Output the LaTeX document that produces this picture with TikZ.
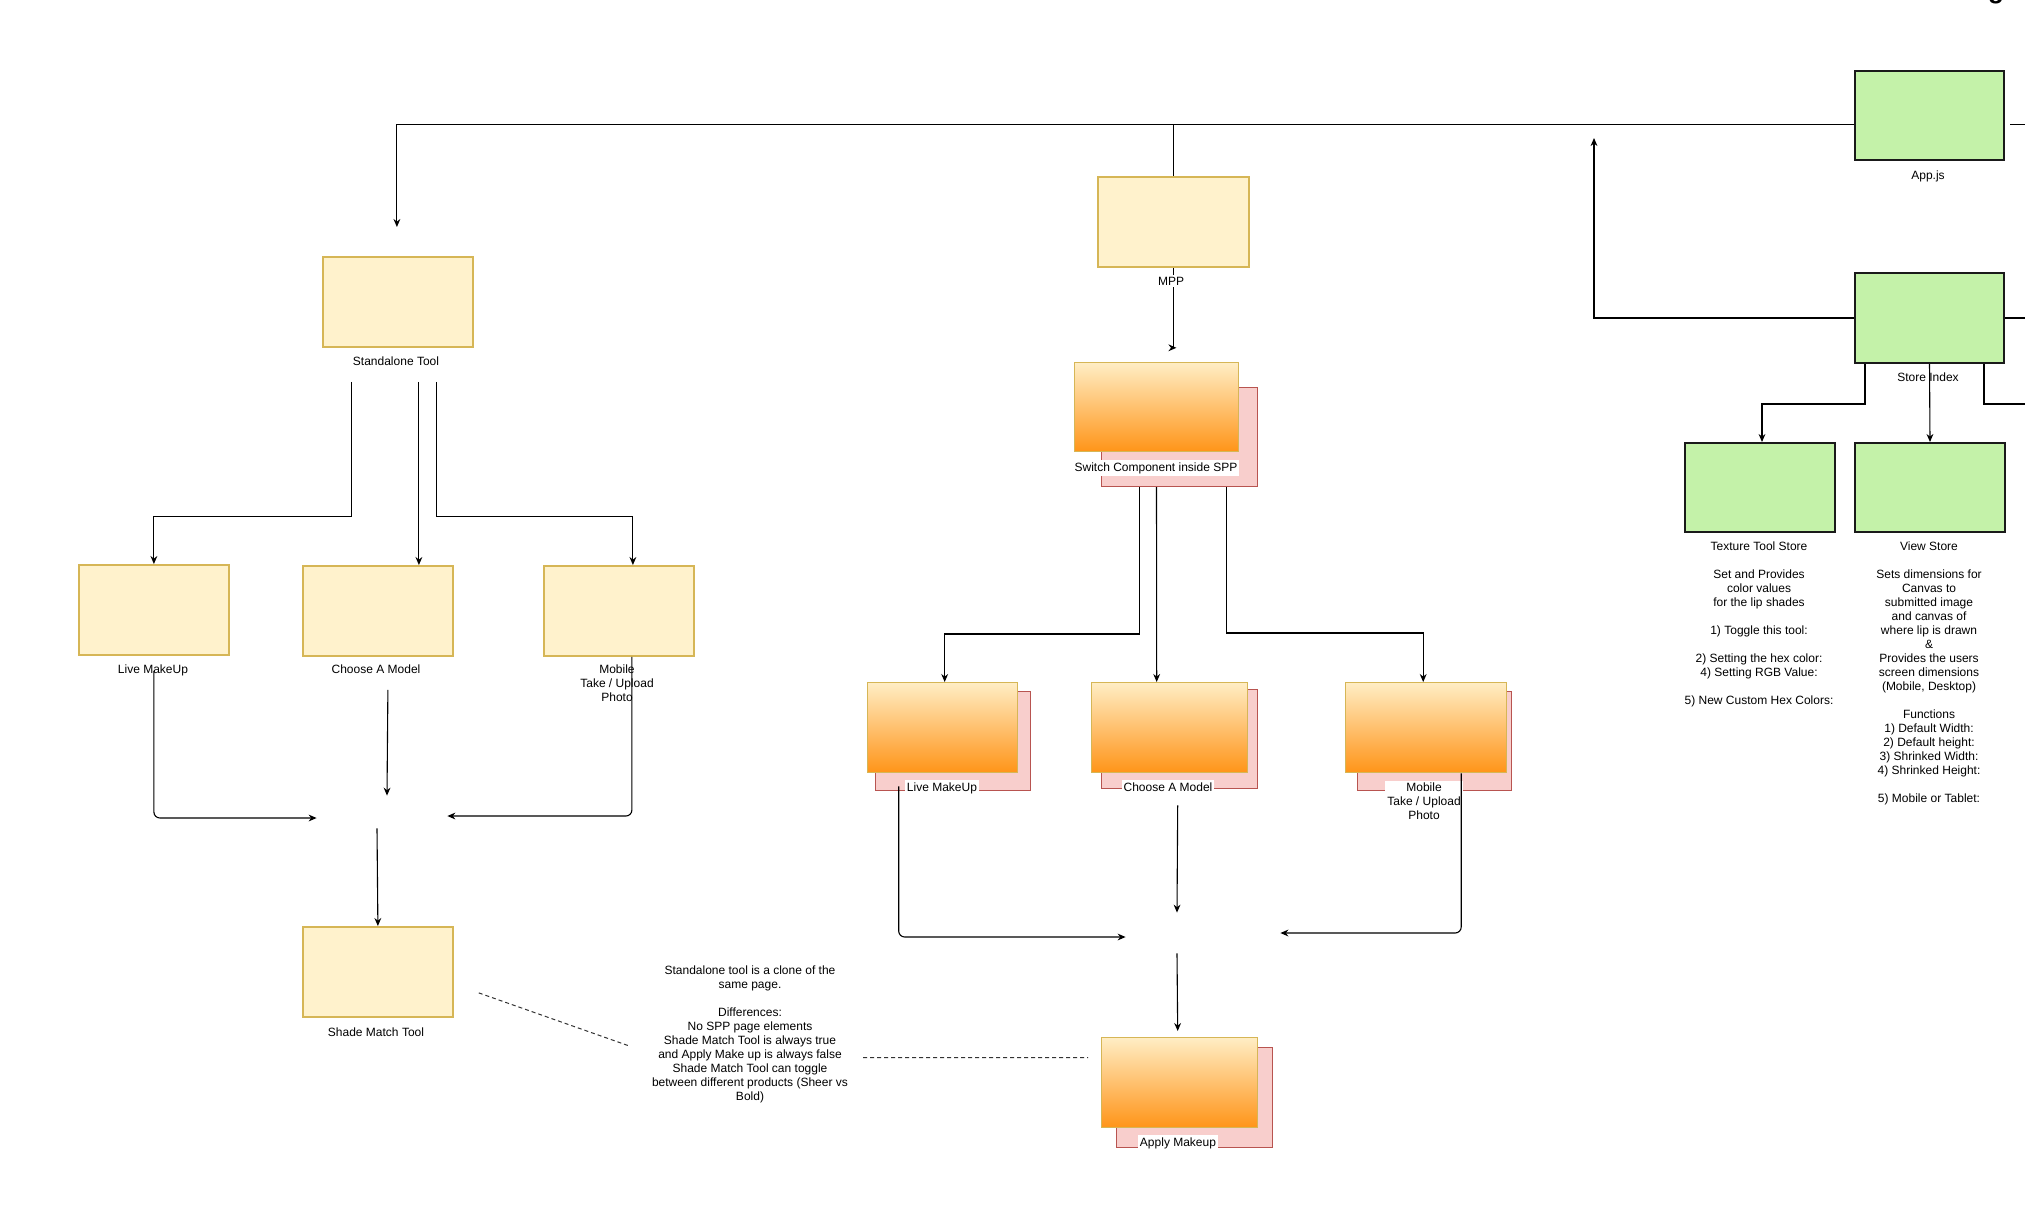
\documentclass[tikz,border=0pt]{standalone}
\usepackage{fontspec}
\setmainfont{Liberation Sans}
\usetikzlibrary{arrows.meta,calc}
\definecolor{yfill}{HTML}{FFF2CC}
\definecolor{ydraw}{HTML}{D6B656}
\definecolor{gfill}{HTML}{C4F2A9}
\definecolor{gdraw}{HTML}{1A1A1A}
\definecolor{otop}{HTML}{FFEDC4}
\definecolor{obot}{HTML}{FF9418}
\definecolor{odraw}{HTML}{D6B656}
\definecolor{pfill}{HTML}{F8CECC}
\definecolor{pdraw}{HTML}{B85450}
\begin{document}
\begin{tikzpicture}[x=0.5pt,y=-0.5pt,
  box/.style={rectangle, anchor=north west, inner sep=0pt},
  ybox/.style={box, fill=yfill, draw=ydraw, line width=0.9pt},
  gbox/.style={box, fill=gfill, draw=gdraw, line width=1pt},
  ofront/.style={box, top color=otop, bottom color=obot, draw=odraw, line width=0.7pt},
  pback/.style={box, fill=pfill, draw=pdraw, line width=0.5pt},
  lbl/.style={font=\fontsize{6pt}{7pt}\selectfont, align=center, inner sep=0pt},
  wlbl/.style={lbl, fill=white, inner sep=1pt},
  conn/.style={draw=black, line width=0.55pt},
  arr/.style={conn, -{Stealth[length=4pt,width=3.4pt]}},
  dsh/.style={draw=black!80, line width=0.5pt, dash pattern=on 2pt off 1.5pt},
  inv/.style={rectangle, inner sep=0pt}
]
\fill[white] (0,0) rectangle (2025,1206);
\useasboundingbox (0,0) rectangle (2025,1206);

% ---------- title fragment ----------
\node[font=\bfseries\fontsize{13pt}{13pt}\selectfont, anchor=base, inner sep=0pt] (title) at (1996,-2) {g};

% ---------- green boxes ----------
\node[gbox, minimum width=74.5pt, minimum height=44.5pt] (app) at (1854,70) {};
\node[gbox, minimum width=74.5pt, minimum height=45pt] (store) at (1854,272) {};
\node[gbox, minimum width=75pt, minimum height=44.5pt] (texture) at (1684,442) {};
\node[gbox, minimum width=75pt, minimum height=44.5pt] (view) at (1854,442) {};

% ---------- yellow boxes ----------
\node[ybox, minimum width=75.5pt, minimum height=45pt] (mpp) at (1097,176) {};
\node[ybox, minimum width=75pt, minimum height=45pt] (standalone) at (322,256) {};
\node[ybox, minimum width=75pt, minimum height=45pt] (liveL) at (78,564) {};
\node[ybox, minimum width=75pt, minimum height=45pt] (chooseL) at (302,565) {};
\node[ybox, minimum width=75pt, minimum height=45pt] (mobileL) at (543,565) {};
\node[ybox, minimum width=75pt, minimum height=45pt] (shade) at (302,926) {};

% ---------- orange stacked boxes ----------
\node[pback, minimum width=78pt, minimum height=49.5pt] (switchP) at (1101,387) {};
\node[ofront, minimum width=82pt, minimum height=44.5pt] (switchF) at (1074,362) {};
\node[pback, minimum width=77.5pt, minimum height=49.5pt] (liveP) at (875,691) {};
\node[ofront, minimum width=75pt, minimum height=45pt] (liveF) at (867,682) {};
\node[pback, minimum width=78pt, minimum height=49.5pt] (chooseP) at (1101,689) {};
\node[ofront, minimum width=78pt, minimum height=45pt] (chooseF) at (1091,682) {};
\node[pback, minimum width=77pt, minimum height=49.5pt] (mobileP) at (1357,691) {};
\node[ofront, minimum width=80.5pt, minimum height=45pt] (mobileF) at (1345,682) {};
\node[pback, minimum width=78pt, minimum height=50pt] (applyP) at (1116,1047) {};
\node[ofront, minimum width=78pt, minimum height=45pt] (applyF) at (1101,1037) {};

% ---------- invisible merge points ----------
\node[inv, minimum width=65pt, minimum height=16pt] (j1) at (382,812) {};
\node[inv, minimum width=77pt, minimum height=20pt] (j2) at (1203,933) {};
\coordinate (upTip) at (1594,138);

% ---------- labels ----------
\node[lbl, anchor=base] (appL) at (1928,179) {App.js};
\node[lbl, anchor=base] (storeL) at (1928,381) {Store Index};
\node[lbl, anchor=north] (textureL) at (1759,541.5) {Texture Tool Store\\[7pt] Set and Provides\\ color values\\ for the lip shades\\[7pt] 1) Toggle this tool:\\[7pt] 2) Setting the hex color:\\ 4) Setting RGB Value:\\[7pt] 5) New Custom Hex Colors:};
\node[lbl, anchor=north] (viewL) at (1929,541.5) {View Store\\[7pt] Sets dimensions for\\ Canvas to\\ submitted image\\ and canvas of\\ where lip is drawn\\ \&\\ Provides the users\\ screen dimensions\\ (Mobile, Desktop)\\[7pt] Functions\\ 1) Default Width:\\ 2) Default height:\\ 3) Shrinked Width:\\ 4) Shrinked Height:\\[7pt] 5) Mobile or Tablet:};
\node[lbl, anchor=base] (standaloneL) at (396,365) {Standalone Tool};
\node[lbl, anchor=base] (liveLL) at (153,673) {Live MakeUp};
\node[lbl, anchor=base] (chooseLL) at (376,673) {Choose A Model};
\node[lbl, anchor=north] (mobileLL) at (617,664.5) {Mobile\\ Take / Upload\\ Photo};
\node[lbl, anchor=base] (shadeL) at (376,1036) {Shade Match Tool};
\node[wlbl, anchor=base] (switchL) at (1156,471) {Switch Component inside SPP};
\node[wlbl, anchor=base] (liveFL) at (942,791) {Live MakeUp};
\node[wlbl, anchor=base] (chooseFL) at (1168,791) {Choose A Model};
\node[wlbl, anchor=north] (mobileFL) at (1424,780.5) {Mobile\\ Take / Upload\\ Photo};
\node[wlbl, anchor=base] (applyL) at (1178,1146) {Apply Makeup};
\node[lbl, anchor=north] (note) at (750,965.5) {Standalone tool is a clone of the\\ same page.\\[7pt] Differences:\\ No SPP page elements\\ Shade Match Tool is always true\\ and Apply Make up is always false\\ Shade Match Tool can toggle\\ between different products (Sheer vs\\ Bold)};

% ---------- connectors: App / Store ----------
\draw[arr] ($(app.west)+(0,9)$) -| ($(standalone.north)+(-1,-29)$);
\draw[conn] ($(app.west)+(0,9)$) -| (mpp.north);
\draw[conn] ($(app.east)+(5,9)$) -- ++(60,0);
\draw[arr] (store.west) -| (upTip);
\draw[conn] (store.east) -- ++(60,0);
\draw[arr] ($(store.south)+(-64.5,0)$) -- ++(0,40) -| ($(texture.north)+(2,0)$);
\draw[arr] (store.south) -- (view.north);
\draw[conn] ($(store.south)+(54.5,0)$) -- ++(0,40) -- ++(80,0);

% ---------- MPP ----------
\draw[conn] (mpp.south) -- ++(0,80) coordinate (mppEnd);
\draw[arr] (mppEnd) -- ++(3,0);

% ---------- Standalone tree ----------
\draw[arr] ($(standalone.south)+(-46,34)$) -- ++(0,135) -| (liveL.north);
\draw[arr] ($(standalone.south)+(21,34)$) -- ($(chooseL.north)+(41,0)$);
\draw[arr] ($(standalone.south)+(39,34)$) -- ++(0,135) -| ($(mobileL.north)+(14,0)$);
\draw[arr, rounded corners=3pt] ($(liveL.south)+(0,15)$) |- ($(j1.west)+(0,6)$);
\draw[arr] ($(chooseL.south)+(10,33)$) -- ($(j1.north)+(5,0)$);
\draw[arr, rounded corners=3pt] ($(mobileL.south)+(13,0)$) |- ($(j1.east)+(0,4)$);
\draw[arr] ($(j1.south)+(-5,0)$) -- (shade.north);

% ---------- Switch tree ----------
\draw[arr] ($(switchP.south)+(-40,0)$) -- ++(0,147) -| ($(liveF.north)+(2,0)$);
\draw[arr] ($(switchP.south)+(-23,0)$) -- ($(chooseF.north)+(-13,0)$);
\draw[arr] ($(switchP.south)+(47,0)$) -- ++(0,146) -| ($(mobileF.north)+(-3,0)$);
\draw[arr, rounded corners=3pt] ($(liveF.south)+(-44,13)$) |- ($(j2.west)+(0,4)$);
\draw[arr] ($(chooseF.south)+(8,32)$) -- ($(j2.north)+(-26,0)$);
\draw[arr, rounded corners=3pt] ($(mobileF.south)+(35,0)$) |- (j2.east);
\draw[arr] ($(j2.south)+(-26,0)$) -- ($(applyF.north)+(-2,-6)$);

% ---------- dashed notes ----------
\draw[dsh] ($(shade.east)+(25,21)$) -- ($(note.north)+(-122,80)$);
\draw[dsh] ($(note.north)+(113,92)$) -- ($(applyF.west)+(-13,-25)$);

% ---------- label over line ----------
\node[wlbl, anchor=base] (mppL) at (1171,285) {MPP};
\end{tikzpicture}
\end{document}
